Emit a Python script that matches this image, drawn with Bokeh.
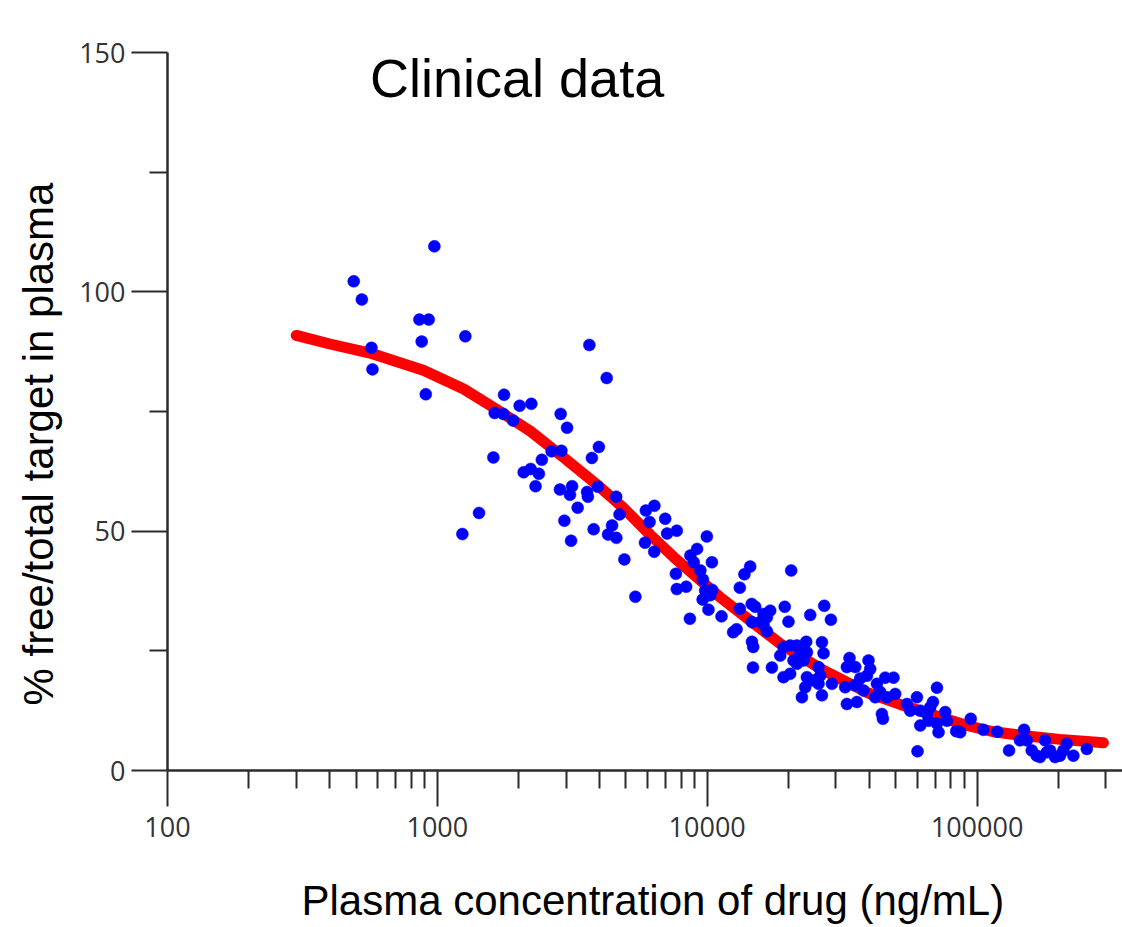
from bokeh.plotting import figure
from bokeh.models import (Range1d, FixedTicker, Label, Title, LinearAxis,
                          CustomJSTickFormatter, ColumnDataSource)
from bokeh.embed import file_html
from bokeh.resources import INLINE

# ---------------- data ----------------
conc = [490, 525, 570, 575, 858, 929, 875, 906, 975, 1270,
        1238, 1427, 1613, 1631, 1767, 1757, 1908, 2018, 2230, 2089,
        2217, 2378, 2312, 2439, 2652, 2882, 2864, 3025, 3659, 2847,
        2956, 3130, 3101, 3157, 3311, 3588, 3613, 3738, 3931, 3968,
        3796, 4242, 4600, 4732, 4441, 4293, 4607, 4933, 5419, 5927,
        6373, 6117, 6988, 5882, 6363, 7103, 7715, 7656, 7715, 8359,
        8627, 8664, 9175, 8913, 9436, 9639,
        9970, 10410, 9830, 10440, 9620, 10260, 10110, 11300, 13210, 13740,
        14430, 20480, 13210, 14620, 15060, 17120, 16640, 16170, 16640, 15720,
        14650, 12850, 12480, 14650, 14810, 14780, 17370, 19380, 20010, 19180,
        20300, 21500, 23280, 22110, 23420, 18650, 20890, 21500, 20300, 19180,
        16170,
        24090, 27150, 28740, 26620, 26990, 25860, 22750, 23420, 24770, 23080,
        25860, 26240, 22440, 26620, 28990, 33680, 32940, 35370, 39610, 40190,
        32470, 35370, 36900, 39080, 37960, 32940, 35880, 44410, 44790, 42560,
        45680, 49030, 43770, 46340, 49750, 41950,
        54980, 59880, 56540, 61600, 65220, 71030, 68650, 67070, 61600, 66110,
        72000, 71030, 76230, 77350, 83730, 60190, 94770, 86640, 105500, 118900,
        149400, 131400, 144300, 152900, 159500, 166400, 171200, 178600, 186500, 194600,
        203000, 215000, 208900, 227500, 255100, 181200]

pct_free = [102.2, 98.4, 88.3, 83.8, 94.2, 94.2, 89.6, 78.6, 109.5, 90.7,
            49.4, 53.8, 65.4, 74.7, 78.5, 74.5, 73.1, 76.2, 76.6, 62.3,
            63.0, 62.0, 59.4, 64.9, 66.7, 66.8, 74.5, 71.6, 88.9, 58.7,
            52.2, 48.0, 57.6, 59.4, 54.9, 58.2, 57.2, 65.3, 59.3, 67.6,
            50.4, 82.0, 57.2, 53.5, 51.2, 49.3, 48.6, 44.1, 36.3, 54.3,
            55.3, 51.9, 52.6, 47.6, 45.7, 49.5, 50.1, 41.1, 37.9, 38.4,
            31.7, 44.9, 46.3, 43.5, 41.8, 39.9,
            48.9, 43.5, 37.6, 37.7, 35.7, 36.6, 33.6, 32.2, 38.2, 41.0,
            42.6, 41.8, 33.8, 34.8, 34.2, 33.4, 32.0, 30.5, 29.1, 31.0,
            31.0, 29.5, 28.9, 26.9, 25.8, 21.5, 21.5, 34.2, 31.1, 25.8,
            26.1, 26.1, 26.9, 24.7, 24.7, 24.0, 23.0, 22.3, 20.2, 19.5,
            32.7,
            32.5, 34.4, 31.5, 26.8, 24.5, 21.6, 23.0, 19.5, 18.8, 17.4,
            18.1, 19.8, 15.3, 15.7, 18.1, 23.5, 21.6, 21.6, 23.0, 21.2,
            17.4, 17.8, 19.2, 19.8, 16.7, 13.9, 14.3, 11.8, 10.8, 18.1,
            19.4, 19.4, 16.4, 15.3, 16.0, 15.3,
            13.9, 15.3, 12.5, 12.5, 11.8, 17.3, 14.3, 13.2, 9.4, 10.4,
            8.0, 9.8, 12.2, 10.4, 8.2, 4.0, 10.8, 8.0, 8.5, 8.1,
            8.5, 4.2, 6.3, 6.3, 4.2, 3.1, 2.8, 6.3, 4.2, 2.8,
            3.1, 5.6, 4.2, 3.1, 4.5, 3.8]

fit_conc = [300, 400, 563, 887, 1252, 1664, 2211, 2938, 3908, 4903, 6160, 7513,
            9436, 11170, 14430, 18650, 26240, 39080, 51900, 91750, 114900,
            152900, 203000, 294000]
fit_pct = [90.9, 89.1, 87.2, 83.6, 79.7, 75.4, 70.9, 65.4, 59.7, 54.8, 49.2, 44.6,
           39.7, 36.2, 31.3, 26.5, 21.3, 16.3, 13.8, 9.4, 8.1,
           7.2, 6.5, 5.8]

x_major_ticks = [100, 1000, 10000, 100000]
x_minor_ticks = [200, 300, 400, 500, 600, 700, 800, 900,
                 2000, 3000, 4000, 5000, 6000, 7000, 8000, 9000,
                 20000, 30000, 40000, 50000, 60000, 70000, 80000, 90000,
                 200000, 300000]
y_major_ticks = [0, 50, 100, 150]
y_minor_ticks = [25, 75, 125]

title_text = "Clinical data"
x_label = "Plasma concentration of drug (ng/mL)"
y_label = "% free/total target in plasma"

# ---------------- figure ----------------
p = figure(width=1122, height=927, x_axis_type="log",
           x_range=Range1d(100, 346000), y_range=Range1d(0, 150),
           output_backend="svg", toolbar_location=None,
           min_border_left=167, min_border_right=0,
           min_border_top=52, min_border_bottom=157)

p.background_fill_color = "white"
p.border_fill_color = "white"
p.outline_line_color = None
p.grid.visible = False

axis_col = "#2b2b2b"
for ax in (p.xaxis[0], p.yaxis[0]):
    ax.axis_line_color = axis_col
    ax.axis_line_width = 2.5
    ax.major_tick_line_color = axis_col
    ax.major_tick_line_width = 2
    ax.minor_tick_line_color = axis_col
    ax.minor_tick_line_width = 2
    ax.major_tick_in = 0
    ax.major_tick_out = 36
    ax.minor_tick_in = 0
    ax.minor_tick_out = 18
    ax.major_label_text_font = "Open Sans"
    ax.major_label_text_font_size = "27px"
    ax.major_label_text_color = "#333333"

p.xaxis.ticker = FixedTicker(ticks=x_major_ticks, minor_ticks=x_minor_ticks)
p.yaxis.ticker = FixedTicker(ticks=y_major_ticks, minor_ticks=y_minor_ticks)
p.xaxis.formatter = CustomJSTickFormatter(code="return String(Math.round(tick));")
p.xaxis.major_label_standoff = 10
p.yaxis.major_label_standoff = 6

fit_src = ColumnDataSource(dict(x=fit_conc, y=fit_pct))
pts_src = ColumnDataSource(dict(x=conc, y=pct_free))

p.line("x", "y", source=fit_src, line_color="#ff0000", line_width=11,
       line_cap="round", line_join="round")
p.scatter("x", "y", source=pts_src, size=12, fill_color="#0000ff",
          line_color="#0000ff", line_width=0.5)

# title inside the plot area
p.add_layout(Label(x=1975, y=144.6, text=title_text, text_align="center",
                   text_baseline="middle", text_font="Liberation Sans",
                   text_font_size="54px", text_color="black"))


def spacer(size, tick):
    # white, label-less axis that only reserves room between the axis and its title
    return LinearAxis(ticker=FixedTicker(ticks=[tick], minor_ticks=[]),
                      formatter=CustomJSTickFormatter(code="return '';"),
                      major_tick_in=0, major_tick_out=size,
                      minor_tick_in=0, minor_tick_out=0,
                      major_label_standoff=0,
                      axis_line_color=None,
                      major_tick_line_color="white", major_tick_line_width=1,
                      minor_tick_line_color=None)


p.add_layout(spacer(36, 100), "below")
p.add_layout(spacer(14, 0), "left")

# axis titles as side titles (outside the axes)
xt = Title(text=x_label, align="left", offset=134, vertical_align="middle",
           standoff=0, text_font="Liberation Sans", text_font_size="42px",
           text_font_style="normal", text_color="black")
yt = Title(text=y_label, align="left", offset=65, vertical_align="middle",
           standoff=0, text_font="Liberation Sans", text_font_size="42px",
           text_font_style="normal", text_color="black")
p.add_layout(xt, "below")
p.add_layout(yt, "left")

open("out.html", "w").write(file_html(p, INLINE))
